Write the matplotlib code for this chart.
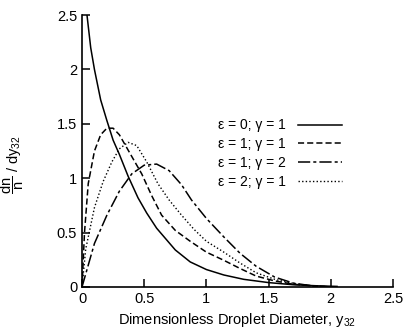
import matplotlib
matplotlib.use("Agg")
import matplotlib.pyplot as plt

plt.rcParams['font.family'] = ['Liberation Sans', 'DejaVu Sans']
plt.rcParams['mathtext.fontset'] = 'custom'
plt.rcParams['mathtext.rm'] = 'Liberation Sans'
plt.rcParams['mathtext.it'] = 'Liberation Sans'

# values
labels = ['ε = 0; γ = 1', 'ε = 1; γ = 1', 'ε = 1; γ = 2', 'ε = 2; γ = 1']

x_e0g1 = [0.04, 0.07, 0.1, 0.15, 0.2, 0.25, 0.3, 0.37, 0.45, 0.52, 0.6, 0.75, 0.87, 1.0, 1.14, 1.3, 1.5, 1.7, 1.9, 2.05]
y_e0g1 = [2.5, 2.2, 2.0, 1.72, 1.53, 1.35, 1.22, 1.02, 0.82, 0.68, 0.54, 0.34, 0.23, 0.16, 0.11, 0.07, 0.04, 0.02, 0.01, 0.005]

x_e1g1 = [0, 0.02, 0.05, 0.1, 0.15, 0.2, 0.25, 0.3, 0.4, 0.48, 0.56, 0.64, 0.75, 0.87, 1.0, 1.14, 1.27, 1.4, 1.55, 1.7, 1.85, 2.0]
y_e1g1 = [0, 0.5, 0.95, 1.25, 1.4, 1.46, 1.46, 1.4, 1.2, 1.04, 0.84, 0.66, 0.52, 0.42, 0.32, 0.245, 0.17, 0.1, 0.055, 0.025, 0.01, 0.0]

x_e1g2 = [0, 0.03, 0.1, 0.2, 0.3, 0.4, 0.5, 0.6, 0.7, 0.8, 0.88, 1.0, 1.14, 1.27, 1.4, 1.55, 1.7, 1.85, 2.0]
y_e1g2 = [0, 0.12, 0.4, 0.66, 0.88, 1.04, 1.12, 1.13, 1.07, 0.94, 0.8, 0.63, 0.46, 0.31, 0.19, 0.09, 0.035, 0.01, 0.0]

x_e2g1 = [0, 0.03, 0.1, 0.17, 0.24, 0.3, 0.37, 0.44, 0.52, 0.61, 0.7, 0.8, 0.9, 1.0, 1.14, 1.27, 1.4, 1.55, 1.7, 1.85, 2.0]
y_e2g1 = [0, 0.35, 0.73, 0.97, 1.15, 1.27, 1.33, 1.3, 1.15, 0.95, 0.8, 0.66, 0.53, 0.42, 0.32, 0.22, 0.13, 0.07, 0.03, 0.01, 0.0]

xticks = [0, 0.5, 1, 1.5, 2, 2.5]
yticks = [0, 0.5, 1, 1.5, 2, 2.5]

fig = plt.figure(figsize=(4.06, 3.36), dpi=100)
ax = fig.add_axes([0.202, 0.146, 0.766, 0.809])

ax.plot(x_e0g1, y_e0g1, color='black', lw=1.1, ls='-', label=labels[0])
ax.plot(x_e1g1, y_e1g1, color='black', lw=1.1, ls=(0, (4, 2)), label=labels[1])
ax.plot(x_e1g2, y_e1g2, color='black', lw=1.1, ls=(0, (8, 2, 2, 2)), label=labels[2])
ax.plot(x_e2g1, y_e2g1, color='black', lw=1.0, ls=(0, (1, 1.6)), label=labels[3])

ax.set_xlim(0, 2.5)
ax.set_ylim(0, 2.5)
ax.set_xticks(xticks)
ax.set_xticklabels(['0', '0.5', '1', '1.5', '2', '2.5'])
ax.set_yticks(yticks)
ax.set_yticklabels(['0', '0.5', '1', '1.5', '2', '2.5'])
ax.tick_params(direction='in', length=5.5, width=1.1, labelsize=10.5, colors='black')

ax.spines['top'].set_visible(False)
ax.spines['right'].set_visible(False)
ax.spines['left'].set_linewidth(1.2)
ax.spines['bottom'].set_linewidth(1.2)

ax.set_xlabel('Dimensionless Droplet Diameter, y$_{32}$', fontsize=10.5)
ax.set_ylabel(r'$\dfrac{\mathrm{dn}}{\mathrm{n}}$ / dy$_{32}$', fontsize=10.5)
ax.yaxis.set_label_coords(-0.18, 0.45)

ax.legend(loc='upper left', bbox_to_anchor=(0.436, 0.62), frameon=False,
          markerfirst=False, handlelength=3.2, handletextpad=0.9,
          borderpad=0, borderaxespad=0, labelspacing=0.35, fontsize=10)

fig.savefig('out.png', dpi=100)
